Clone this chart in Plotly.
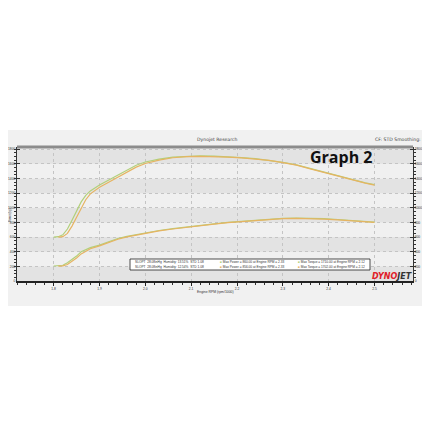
import plotly.graph_objects as go

# ---------------- data ----------------
rpm = [1.80, 1.81, 1.82, 1.83, 1.84, 1.85, 1.86, 1.87, 1.88, 1.90, 1.92, 1.94, 1.96, 1.98,
       2.00, 2.03, 2.06, 2.09, 2.12, 2.15, 2.18, 2.21, 2.24, 2.27, 2.30, 2.33, 2.36, 2.39,
       2.42, 2.45, 2.48, 2.50]

torque_run1 = [600, 605, 630, 710, 830, 960, 1080, 1170, 1230, 1310, 1380, 1450, 1520, 1580,
               1625, 1665, 1692, 1705, 1710, 1706, 1698, 1686, 1670, 1650, 1620, 1585, 1535, 1485,
               1430, 1380, 1340, 1315]
torque_run2 = [None, 600, 605, 650, 750, 870, 1000, 1110, 1190, 1280, 1350, 1420, 1490, 1555,
               1605, 1650, 1683, 1698, 1702, 1700, 1693, 1682, 1667, 1647, 1617, 1582, 1532, 1482,
               1428, 1378, 1336, 1310]
power_run1 = [205, 208, 215, 250, 290, 340, 400, 430, 455, 490, 540, 580, 610, 635,
              655, 690, 715, 740, 760, 780, 800, 815, 830, 845, 855, 860, 858, 852,
              840, 828, 815, 805]
power_run2 = [None, 203, 207, 225, 265, 315, 370, 410, 440, 480, 528, 570, 602, 628,
              648, 684, 710, 735, 756, 776, 796, 811, 826, 841, 851, 856, 854, 846,
              835, 823, 810, 800]

x_ticks = [1.8, 1.9, 2.0, 2.1, 2.2, 2.3, 2.4, 2.5]
y_ticks = [0, 200, 400, 600, 800, 1000, 1200, 1400, 1600, 1800]

run_info = ["SLOPT  28.08inHg  Humidity: 13.51%  STD 1.08",
            "SLOPT  28.08inHg  Humidity: 12.54%  STD 1.08"]
run_colors = ["#b2d07a", "#e6b462"]

# ---------------- layout geometry (page pixel coordinates) ----------------
PAGE_OFF = 8            # browser body margin
W, H = 430 - PAGE_OFF, 430 - PAGE_OFF
L, R, T, B = 17, 413, 147, 281


def px2x(px):
    return (px - L) / (R - L)


def py2y(py):
    return (B - py) / (B - T)


fig = go.Figure()

for tq, pw, col in [(torque_run1, power_run1, run_colors[0]), (torque_run2, power_run2, run_colors[1])]:
    fig.add_trace(go.Scatter(x=rpm, y=tq, mode="lines", line=dict(color=col, width=1.2),
                             yaxis="y2", showlegend=False, hoverinfo="skip"))
    fig.add_trace(go.Scatter(x=rpm, y=pw, mode="lines", line=dict(color=col, width=1.2),
                             showlegend=False, hoverinfo="skip"))

shapes = []
# outer light panel
shapes.append(dict(type="rect", xref="paper", yref="paper", x0=px2x(2), x1=px2x(428),
                   y0=py2y(306), y1=py2y(130), fillcolor="#f1f1f1", line=dict(width=0), layer="below"))
# alternating horizontal bands
for k in range(len(y_ticks) - 1):
    shapes.append(dict(type="rect", xref="paper", yref="y", x0=0, x1=1,
                       y0=y_ticks[k], y1=y_ticks[k + 1],
                       fillcolor="#e3e3e3" if k % 2 == 0 else "#f0f0f0",
                       line=dict(width=0), layer="below"))
# top dark border of plot
shapes.append(dict(type="line", xref="paper", yref="paper", x0=0, x1=1, y0=1, y1=1,
                   line=dict(color="#8c8c8c", width=3)))
# legend box
shapes.append(dict(type="rect", xref="paper", yref="paper", x0=px2x(130), x1=px2x(370),
                   y0=py2y(270), y1=py2y(259), fillcolor="white", line=dict(color="#222", width=0.8)))

tiny = dict(family="Liberation Sans", size=3.2, color="#333")
small = dict(family="Liberation Sans", size=3.4, color="#333")


def note(text, px, py, font, xanchor="center", **kw):
    return dict(text=text, x=px2x(px), y=py2y(py), xref="paper", yref="paper",
                xanchor=xanchor, yanchor="middle", showarrow=False, font=font, **kw)


ann = []
ann.append(note("Dynojet Research", 217, 139, dict(family="DejaVu Sans", size=4.6, color="#444")))
ann.append(note("CF: STD Smoothing: 5", 427, 139, dict(family="DejaVu Sans", size=4.6, color="#444"),
                xanchor="right"))
ann.append(note("<b>Graph 2</b>", 341, 157, dict(family="Open Sans", size=16, color="#111")))
ann.append(note("Power (hp)", 9.8, 215.5, dict(family="Liberation Sans", size=2.8, color="#333"),
                textangle=-90))
ann.append(note("Torque (lb-ft)", 425, 214, small, textangle=90,
                bordercolor="#555", borderwidth=0.5, borderpad=0.5))
ann.append(note("<b><i><span style='color:#e0202a'>DYNO</span><span style='color:#333'>JET</span></i></b>",
                392, 276, dict(family="DejaVu Sans", size=8)))
ann.append(note("Engine RPM (rpm/1000)", 215, 292, small))

# legend rows built from the data
series = [(torque_run1, power_run1), (torque_run2, power_run2)]
for i, ((tq, pw), info, col) in enumerate(zip(series, run_info, run_colors)):
    py = 262 + i * 5
    pvals = [(v, r) for v, r in zip(pw, rpm) if v is not None]
    tvals = [(v, r) for v, r in zip(tq, rpm) if v is not None]
    pmax, prpm = max(pvals)
    tmax, trpm = max(tvals)
    ann.append(note(info, 133, py, tiny, xanchor="left"))
    ann.append(note(f"<span style='color:{col}'>■</span> Max Power = {pmax:.2f} at Engine RPM = {prpm:.2f}",
                    218, py, tiny, xanchor="left"))
    ann.append(note(f"<span style='color:{col}'>■</span> Max Torque = {tmax:.2f} at Engine RPM = {trpm:.2f}",
                    296, py, tiny, xanchor="left"))

tickfont = dict(family="Liberation Sans", size=3.3, color="#333")
fig.update_layout(
    width=W, height=H,
    margin=dict(l=L - PAGE_OFF, r=W - (R - PAGE_OFF), t=T - PAGE_OFF, b=H - (B - PAGE_OFF),
                pad=0, autoexpand=False),
    paper_bgcolor="white", plot_bgcolor="#ececec",
    shapes=shapes, annotations=ann, showlegend=False,
    xaxis=dict(range=[1.72, 2.584], tickvals=x_ticks, ticktext=[f"{v:.1f}" for v in x_ticks],
               showgrid=True, gridcolor="#c4c4c4", griddash="dot", gridwidth=0.8, automargin=False,
               showline=True, linecolor="#222", linewidth=2, ticks="outside", ticklen=3,
               tickcolor="#222", tickfont=tickfont, zeroline=False,
               minor=dict(dtick=0.02, ticks="outside", ticklen=2, tickcolor="#333", showgrid=False)),
    yaxis=dict(range=[0, 1830], tickvals=y_ticks, showgrid=True, gridcolor="#c4c4c4", griddash="dot",
               gridwidth=0.8, showline=True, linecolor="#333", linewidth=1, ticks="inside", ticklen=3,
               tickcolor="#333", tickfont=tickfont, zeroline=False, automargin=False,
               minor=dict(dtick=50, ticks="outside", ticklen=2, tickcolor="#333", showgrid=False)),
    yaxis2=dict(range=[0, 1830], tickvals=y_ticks, overlaying="y", side="right", showgrid=False,
                showline=True, linecolor="#333", linewidth=1, ticks="inside", ticklen=3,
                tickcolor="#333", tickfont=tickfont, zeroline=False, automargin=False,
                minor=dict(dtick=50, ticks="outside", ticklen=2, tickcolor="#333")),
)

fig.write_html("out.html")
